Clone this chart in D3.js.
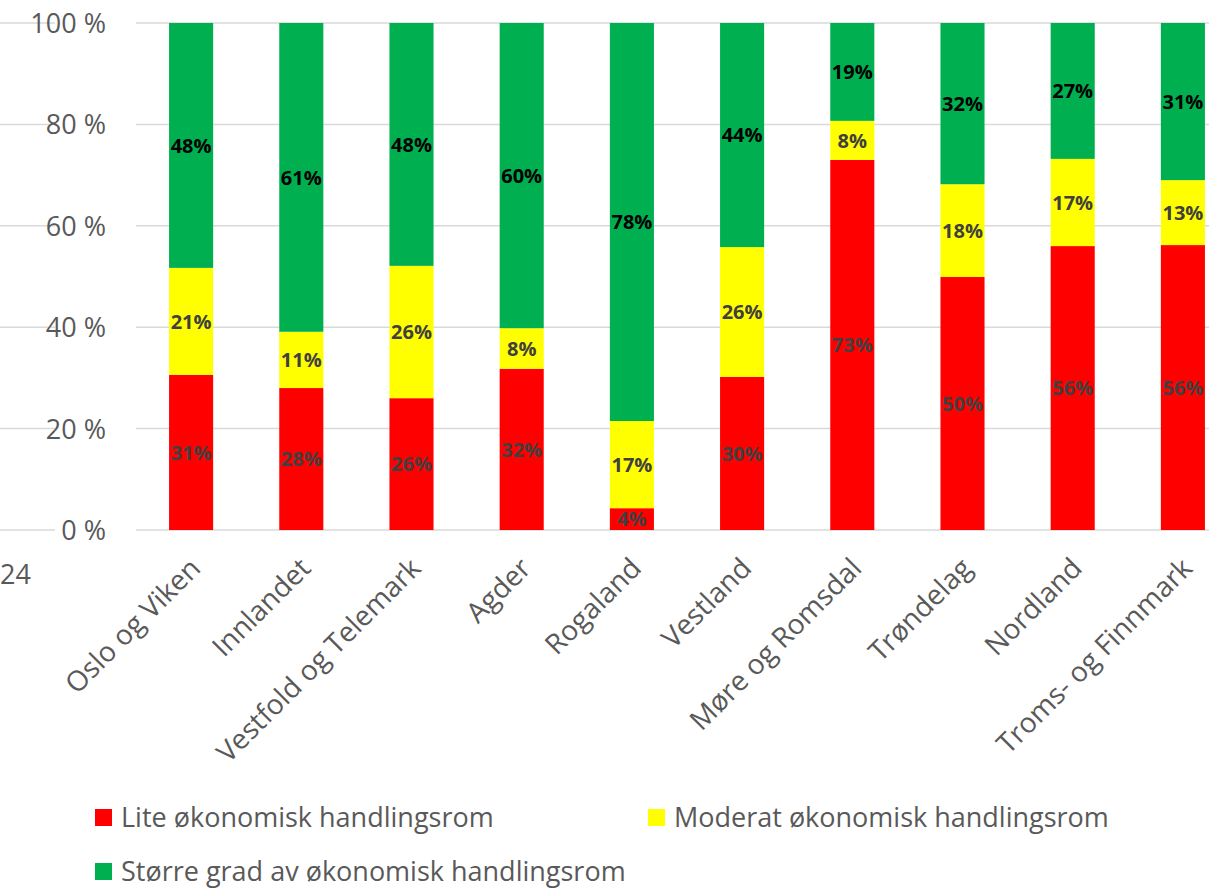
<!DOCTYPE html>
<html><head><meta charset="utf-8">
<script src="https://cdn.jsdelivr.net/npm/d3@7"></script>
<style>
html,body{margin:0;padding:0;background:#fff;}
svg{display:block;font-family:"Open Sans","Noto Sans",sans-serif;}
</style></head>
<body>
<svg id="c" width="1209" height="890"></svg>
<script>
const categories = ["Oslo og Viken","Innlandet","Vestfold og Telemark","Agder","Rogaland","Vestland","Møre og Romsdal","Trøndelag","Nordland","Troms- og Finnmark"];
const lite     = [30.6, 28.0, 26.0, 31.8, 4.3, 30.2, 73.0, 49.9, 56.0, 56.2];
const moderat  = [21.1, 11.1, 26.1, 8.0, 17.2, 25.6, 7.7, 18.3, 17.2, 12.8];
const storre   = [48.3, 60.9, 47.9, 60.2, 78.5, 44.2, 19.3, 31.8, 26.8, 31.0];
const liteLabels    = ["31%","28%","26%","32%","4%","30%","73%","50%","56%","56%"];
const moderatLabels = ["21%","11%","26%","8%","17%","26%","8%","18%","17%","13%"];
const storreLabels  = ["48%","61%","48%","60%","78%","44%","19%","32%","27%","31%"];
const seriesNames = ["Lite økonomisk handlingsrom","Moderat økonomisk handlingsrom","Større grad av økonomisk handlingsrom"];
const seriesColors = ["#ff0000","#ffff00","#00b050"];
const labelColors = ["#404040","#404040","#000000"];
const yTicks = [0,20,40,60,80,100];
const yTickLabels = ["0 %","20 %","40 %","60 %","80 %","100 %"];
const sideLabel = "24";

const svg = d3.select("#c");
const x = d3.scaleBand().domain(categories).range([136, 1238]).paddingInner(0.6).paddingOuter(0.3);
const y = d3.scaleLinear().domain([0,100]).range([530, 23]);

const rows = categories.map((c,i)=>({cat:c, lite:lite[i], moderat:moderat[i], storre:storre[i], i}));
const keys = ["lite","moderat","storre"];
const labelArrs = [liteLabels, moderatLabels, storreLabels];
const stack = d3.stack().keys(keys)(rows);

// gridlines (main plot)
svg.append("g").selectAll("line").data(yTicks).join("line")
  .attr("x1",136).attr("x2",1209)
  .attr("y1",d=>y(d)).attr("y2",d=>y(d))
  .attr("stroke","#d9d9d9").attr("stroke-width",1.5);
// gridline fragments at far left
svg.append("g").selectAll("line").data(yTicks).join("line")
  .attr("x1",0).attr("x2",55)
  .attr("y1",d=>y(d)).attr("y2",d=>y(d))
  .attr("stroke","#d9d9d9").attr("stroke-width",1.5);

// y tick labels
const yAxis = d3.axisLeft(y).tickValues(yTicks).tickFormat((d,i)=>yTickLabels[i]).tickSize(0).tickPadding(0);
const ya = svg.append("g").attr("transform","translate(106,0)").call(yAxis);
ya.select(".domain").remove();
ya.selectAll("text").attr("fill","#595959").attr("font-size",27).attr("font-family","'Open Sans','Noto Sans',sans-serif").attr("dy","0.35em");

// bars
stack.forEach((s,si)=>{
  svg.append("g").selectAll("rect").data(s).join("rect")
    .attr("x",d=>x(d.data.cat)).attr("width",x.bandwidth())
    .attr("y",d=>y(d[1])).attr("height",d=>y(d[0])-y(d[1]))
    .attr("fill",seriesColors[si]);
});
// labels
stack.forEach((s,si)=>{
  svg.append("g").selectAll("text").data(s).join("text")
    .attr("x",d=>x(d.data.cat)+x.bandwidth()/2)
    .attr("y",d=>(y(d[0])+y(d[1]))/2)
    .attr("dy","0.36em")
    .attr("text-anchor","middle")
    .attr("font-weight","bold").attr("font-size",20)
    .attr("fill",labelColors[si])
    .text((d,i)=>labelArrs[si][i]);
});

// x category labels
const xAxis = d3.axisBottom(x).tickSize(0).tickPadding(0);
const xa = svg.append("g").attr("transform","translate(0,530)").call(xAxis);
xa.select(".domain").remove();
xa.selectAll("text")
  .attr("fill","#595959").attr("font-size",28).attr("font-family","'Open Sans','Noto Sans',sans-serif")
  .attr("text-anchor","end").attr("y",0).attr("dy",0)
  .attr("transform","translate(11,40) rotate(-45)");

// side label
svg.append("text").attr("x",0).attr("y",584).attr("fill","#595959").attr("font-size",27).text(sideLabel);

// legend
const legendPos = [[95,818],[648,818],[95,872]];
const lg = svg.append("g").selectAll("g").data(seriesNames).join("g")
  .attr("transform",(d,i)=>`translate(${legendPos[i][0]},${legendPos[i][1]})`);
lg.append("rect").attr("x",0).attr("y",-9).attr("width",17).attr("height",17).attr("fill",(d,i)=>seriesColors[i]);
lg.append("text").attr("x",26).attr("y",0).attr("dy","0.35em").attr("fill","#595959").attr("font-size",27).text(d=>d);
</script>
</body></html>
